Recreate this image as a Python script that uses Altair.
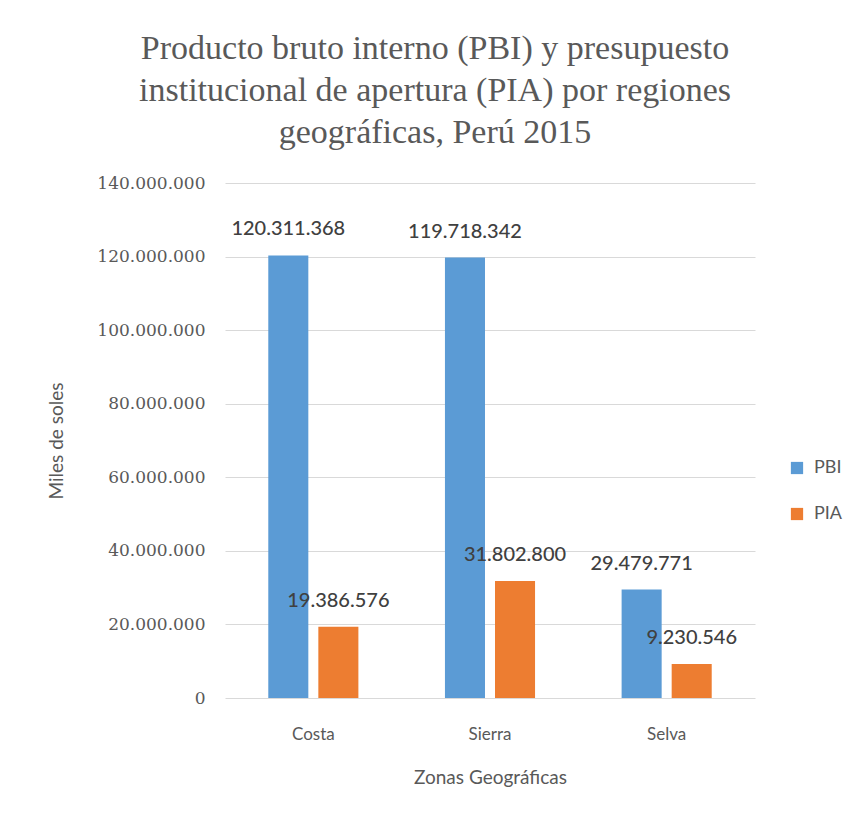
import altair as alt
import pandas as pd

zonas = ["Costa", "Sierra", "Selva"]
series = ["PBI", "PIA"]
pbi = [120311368, 119718342, 29479771]
pia = [19386576, 31802800, 9230546]
y_ticks = [0, 20000000, 40000000, 60000000, 80000000, 100000000, 120000000, 140000000]
colors = ["#5B9BD5", "#ED7D31"]

rows = []
for i, z in enumerate(zonas):
    rows.append({"zona": z, "serie": "PBI", "valor": pbi[i]})
    rows.append({"zona": z, "serie": "PIA", "valor": pia[i]})
df = pd.DataFrame(rows)
df["etiqueta"] = df["valor"].map(lambda v: f"{v:,}".replace(",", "."))

sans = "Lato"
serif = "DejaVu Serif"
gray = "#595959"

x_axis = alt.Axis(
    title="Zonas Geográficas",
    labelAngle=0,
    domain=False,
    ticks=False,
    grid=False,
    labelPadding=28,
    labelFont=sans,
    labelFontSize=17,
    labelColor=gray,
    titleFont=sans,
    titleFontSize=19,
    titleFontWeight="normal",
    titleColor=gray,
    titlePadding=26,
)
x_enc = alt.X(
    "zona:N",
    sort=zonas,
    scale=alt.Scale(paddingInner=0.49, paddingOuter=0.245),
    axis=x_axis,
)
xoff = alt.XOffset("serie:N", sort=series, scale=alt.Scale(paddingInner=0.2, paddingOuter=0))

y_enc = alt.Y(
    "valor:Q",
    scale=alt.Scale(domain=[0, 140000000], nice=False),
    axis=alt.Axis(
        title="Miles de soles",
        values=y_ticks,
        labelExpr="replace(replace(format(datum.value, ','), ',', '.'), ',', '.')",
        domain=False,
        ticks=False,
        labelPadding=20,
        labelFont=serif,
        labelFontSize=17,
        labelColor=gray,
        titleFont=sans,
        titleFontSize=19,
        titleFontWeight="normal",
        titleColor=gray,
        titlePadding=30,
        gridColor="#d9d9d9",
        gridWidth=1,
    ),
)

bars = alt.Chart(df).mark_bar().encode(
    x=x_enc,
    xOffset=xoff,
    y=y_enc,
    color=alt.Color(
        "serie:N",
        sort=series,
        scale=alt.Scale(domain=series, range=colors),
        legend=alt.Legend(
            title=None,
            orient="none",
            legendX=563,
            legendY=276,
            symbolType="square",
            symbolSize=150,
            symbolStrokeWidth=0,
            labelFont=sans,
            labelFontSize=18,
            labelColor=gray,
            rowPadding=28,
            labelOffset=8,
        ),
    ),
)

labels = alt.Chart(df).mark_text(
    baseline="bottom", dy=-16, font=sans, fontSize=20, fontWeight=500, color="#404040"
).encode(
    x=alt.X("zona:N", sort=zonas, axis=x_axis),
    xOffset=alt.XOffset("serie:N", sort=series),
    y="valor:Q",
    text="etiqueta:N",
)

chart = (
    alt.layer(bars, labels)
    .properties(
        width=530,
        height=515,
        background="white",
        autosize=alt.AutoSizeParams(type="none"),
        padding={"left": 217, "top": 175, "right": 91, "bottom": 117},
        title=alt.TitleParams(
            text=[
                "Producto bruto interno (PBI) y presupuesto",
                "institucional de apertura (PIA) por regiones",
                "geográficas, Perú 2015",
            ],
            font="Liberation Serif",
            fontSize=34,
            fontWeight="normal",
            color=gray,
            lineHeight=42,
            anchor="middle",
            dx=-55,
            offset=24,
        ),
    )
    .configure_view(stroke="transparent", strokeWidth=0)
)

chart.save("out.html", embed_options={"renderer": "svg", "actions": False})
